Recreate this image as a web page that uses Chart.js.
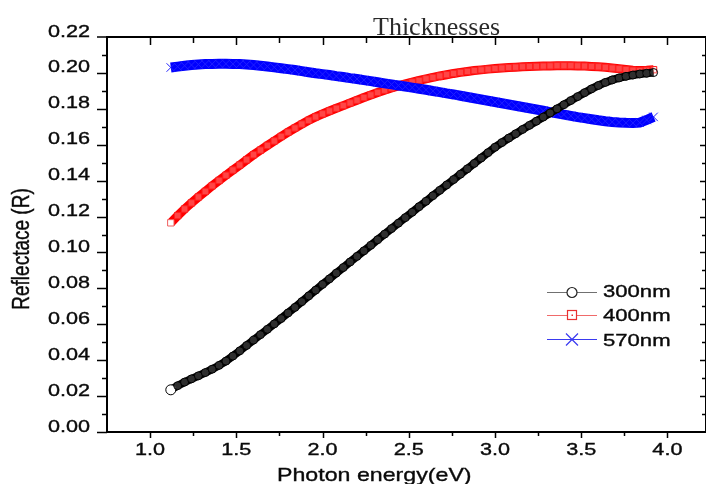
<!DOCTYPE html>
<html>
<head>
<meta charset="utf-8">
<script src="https://cdn.jsdelivr.net/npm/chart.js@4"></script>
<style>
  html, body { margin: 0; padding: 0; background: #fff; overflow: hidden; }
  canvas { display: block; }
</style>
</head>
<body>
<canvas id="reflChart" width="706" height="484"></canvas>
<script>
// photon energy (eV)
const energy = [
  1.12, 1.16, 1.20, 1.24, 1.28, 1.32, 1.36, 1.40, 1.44, 1.48,
  1.52, 1.56, 1.60, 1.64, 1.68, 1.72, 1.76, 1.80, 1.84, 1.88,
  1.92, 1.96, 2.00, 2.04, 2.08, 2.12, 2.16, 2.20, 2.24, 2.28,
  2.32, 2.36, 2.40, 2.44, 2.48, 2.52, 2.56, 2.60, 2.64, 2.68,
  2.72, 2.76, 2.80, 2.84, 2.88, 2.92, 2.96, 3.00, 3.04, 3.08,
  3.12, 3.16, 3.20, 3.24, 3.28, 3.32, 3.36, 3.40, 3.44, 3.48,
  3.52, 3.56, 3.60, 3.64, 3.68, 3.72, 3.76, 3.80, 3.84, 3.88,
  3.92
];

const r300 = [
  0.0235, 0.0258, 0.0278, 0.0296, 0.0313, 0.0331, 0.0350, 0.0371, 0.0395, 0.0423,
  0.0452, 0.0482, 0.0512, 0.0542, 0.0572, 0.0602, 0.0632, 0.0663, 0.0694, 0.0726,
  0.0758, 0.0790, 0.0822, 0.0853, 0.0885, 0.0916, 0.0947, 0.0978, 0.1009, 0.1040,
  0.1071, 0.1102, 0.1133, 0.1163, 0.1194, 0.1224, 0.1255, 0.1285, 0.1316, 0.1346,
  0.1376, 0.1406, 0.1436, 0.1466, 0.1496, 0.1526, 0.1556, 0.1586, 0.1612, 0.1637,
  0.1661, 0.1685, 0.1708, 0.1731, 0.1754, 0.1777, 0.1800, 0.1823, 0.1846, 0.1868,
  0.1890, 0.1911, 0.1930, 0.1947, 0.1961, 0.1972, 0.1981, 0.1988, 0.1994, 0.1998,
  0.2002
];

const r400 = [
  0.1165, 0.1205, 0.1242, 0.1276, 0.1309, 0.1340, 0.1371, 0.1401, 0.1430, 0.1459,
  0.1487, 0.1516, 0.1544, 0.1570, 0.1596, 0.1621, 0.1646, 0.1670, 0.1693, 0.1715,
  0.1736, 0.1755, 0.1772, 0.1788, 0.1803, 0.1818, 0.1833, 0.1848, 0.1863, 0.1877,
  0.1891, 0.1904, 0.1916, 0.1928, 0.1939, 0.1949, 0.1958, 0.1967, 0.1975, 0.1983,
  0.1990, 0.1997, 0.2003, 0.2008, 0.2013, 0.2017, 0.2021, 0.2024, 0.2027, 0.2030,
  0.2032, 0.2034, 0.2036, 0.2037, 0.2038, 0.2039, 0.2040, 0.2040, 0.2040, 0.2039,
  0.2038, 0.2036, 0.2034, 0.2031, 0.2027, 0.2023, 0.2019, 0.2015, 0.2013, 0.2015,
  0.2018
];

const r570 = [
  0.2030, 0.2035, 0.2040, 0.2044, 0.2047, 0.2049, 0.2050, 0.2051, 0.2051, 0.2050,
  0.2049, 0.2047, 0.2044, 0.2040, 0.2036, 0.2031, 0.2026, 0.2021, 0.2016, 0.2010,
  0.2004, 0.1998, 0.1993, 0.1988, 0.1982, 0.1977, 0.1971, 0.1966, 0.1960, 0.1954,
  0.1948, 0.1942, 0.1936, 0.1930, 0.1924, 0.1918, 0.1912, 0.1906, 0.1899, 0.1893,
  0.1886, 0.1880, 0.1873, 0.1866, 0.1859, 0.1852, 0.1845, 0.1838, 0.1831, 0.1824,
  0.1817, 0.1810, 0.1803, 0.1796, 0.1789, 0.1782, 0.1775, 0.1768, 0.1761, 0.1754,
  0.1748, 0.1742, 0.1736, 0.1731, 0.1727, 0.1724, 0.1722, 0.1721, 0.1723, 0.1738,
  0.1755
];

const seriesNames = ['300nm', '400nm', '570nm'];
const xTicks = [1.0, 1.5, 2.0, 2.5, 3.0, 3.5, 4.0];
const yTicks = [0.00, 0.02, 0.04, 0.06, 0.08, 0.10, 0.12, 0.14, 0.16, 0.18, 0.20, 0.22];

function pts(ys) {
  return energy.map((e, i) => ({ x: e, y: ys[i] }));
}

// stretched text, the original figure is squashed wider than tall
function stretchText(ctx, str, x, y, font, align, sx, rot) {
  ctx.save();
  ctx.translate(x, y);
  ctx.scale(sx, 1);
  if (rot) ctx.rotate(rot);
  ctx.font = font;
  ctx.textAlign = align;
  ctx.textBaseline = 'alphabetic';
  ctx.fillStyle = '#0a0a0a';
  ctx.strokeStyle = '#0a0a0a';
  ctx.lineWidth = 0.35;
  ctx.fillText(str, 0, 0);
  ctx.strokeText(str, 0, 0);
  ctx.restore();
}

const frame = {
  id: 'frame',
  afterDatasetsDraw(chart) {
    const ctx = chart.ctx;
    const a = chart.chartArea;
    const xs = chart.scales.x, ys = chart.scales.y;
    ctx.save();
    ctx.strokeStyle = '#000';
    ctx.lineWidth = 2;
    ctx.strokeRect(a.left, a.top, a.right - a.left, a.bottom - a.top);
    ctx.lineWidth = 1.5;
    ctx.beginPath();
    // x ticks every 0.25, labels every 0.5
    for (let i = 0; i <= 14; i++) {
      const v = 0.75 + i * 0.25;
      const px = Math.round(xs.getPixelForValue(v)) + 0.5;
      if (px < a.left + 2 || px > a.right - 1) continue;
      const major = i % 2 === 1;
      ctx.moveTo(px, a.bottom);
      ctx.lineTo(px, a.bottom + (major ? 6 : 4));
      ctx.moveTo(px, a.top);
      ctx.lineTo(px, a.top + (major ? 8 : 6));
    }
    // y ticks every 0.01
    for (let i = 1; i <= 21; i++) {
      const v = i * 0.01;
      const py = Math.round(ys.getPixelForValue(v)) + 0.5;
      const major = i % 2 === 0;
      ctx.moveTo(a.left, py);
      ctx.lineTo(a.left - (major ? 10 : 5), py);
      ctx.moveTo(a.right, py);
      ctx.lineTo(a.right - (major ? 6 : 4), py);
    }
    ctx.moveTo(a.left, a.bottom + 0.5);
    ctx.lineTo(a.left - 10, a.bottom + 0.5);
    ctx.moveTo(a.left, a.top);
    ctx.lineTo(a.left - 10, a.top);
    ctx.stroke();

    const tickFont = '16px "Liberation Sans", Arial, sans-serif';
    yTicks.forEach(v => {
      stretchText(ctx, v.toFixed(2), 90, ys.getPixelForValue(v) - 0.5, tickFont, 'right', 1.35);
    });
    xTicks.forEach(v => {
      stretchText(ctx, v.toFixed(1), xs.getPixelForValue(v), 455, tickFont, 'center', 1.35);
    });

    stretchText(ctx, 'Photon energy(eV)', 277, 481, '19px "Liberation Sans", Arial, sans-serif', 'left', 1.22);
    stretchText(ctx, 'Reflectace (R)', 29, 249, '19px "Liberation Sans", Arial, sans-serif', 'center', 1.3, -Math.PI / 2);

    ctx.font = '26px "Liberation Serif", "Times New Roman", serif';
    ctx.fillStyle = '#2a2a2a';
    ctx.textAlign = 'left';
    ctx.textBaseline = 'alphabetic';
    ctx.fillText('Thicknesses', 373, 35);

    // legend
    const rows = [
      { y: 292, base: 297, line: '#707070', mark: '#222' },
      { y: 315, base: 320.5, line: '#f06a6a', mark: '#e83030' },
      { y: 339, base: 346, line: '#3a3af0', mark: '#3a3af0' }
    ];
    rows.forEach((r, i) => {
      ctx.strokeStyle = r.line;
      ctx.lineWidth = 1.2;
      ctx.beginPath();
      ctx.moveTo(547, r.y + 0.5);
      ctx.lineTo(597, r.y + 0.5);
      ctx.stroke();
      ctx.strokeStyle = r.mark;
      ctx.fillStyle = '#fff';
      ctx.lineWidth = 1.2;
      ctx.beginPath();
      if (i === 0) {
        ctx.arc(572, r.y + 0.5, 5, 0, Math.PI * 2);
        ctx.fill();
        ctx.stroke();
      } else if (i === 1) {
        ctx.fillRect(567.5, r.y - 4.5, 9, 9);
        ctx.strokeRect(567.5, r.y - 4.5, 9, 9);
        ctx.fillStyle = r.mark;
        ctx.fillRect(571.5, r.y - 0.5, 1.5, 1.5);
      } else {
        ctx.moveTo(566, r.y - 5.5);
        ctx.lineTo(578, r.y + 6.5);
        ctx.moveTo(578, r.y - 5.5);
        ctx.lineTo(566, r.y + 6.5);
        ctx.stroke();
      }
      stretchText(ctx, seriesNames[i], 603, r.base, '17px "Liberation Sans", Arial, sans-serif', 'left', 1.3);
    });
    ctx.restore();
  }
};

const ctx = document.getElementById('reflChart').getContext('2d');

const chart = new Chart(ctx, {
  type: 'line',
  data: {
    datasets: [
      {
        label: seriesNames[0],
        data: pts(r300),
        borderColor: '#000',
        borderWidth: 8,
        pointStyle: 'circle',
        pointRadius: c => c.dataIndex === 0 ? 5 : 4,
        pointBorderColor: '#000',
        pointBorderWidth: 1,
        pointBackgroundColor: c => c.dataIndex === 0 ? '#fff' : 'rgba(255,255,255,0.18)',
        order: 0
      },
      {
        label: seriesNames[1],
        data: pts(r400),
        borderColor: '#ff0000',
        borderWidth: 9,
        pointStyle: 'rect',
        pointRadius: 4.5,
        pointBorderColor: c => c.dataIndex === 0 ? '#f06060' : '#ff2020',
        pointBorderWidth: 1,
        pointBackgroundColor: c => c.dataIndex === 0 ? '#fff' : 'rgba(255,200,200,0.35)',
        order: 2
      },
      {
        label: seriesNames[2],
        data: pts(r570),
        borderColor: '#0000ff',
        borderWidth: 10,
        pointStyle: 'crossRot',
        pointRadius: 6,
        pointBorderColor: '#2020ff',
        pointBorderWidth: 1,
        order: 1
      }
    ]
  },
  options: {
    animation: false,
    responsive: false,
    devicePixelRatio: 1,
    layout: { autoPadding: false, padding: { left: 107, top: 37, right: -2, bottom: 52 } },
    plugins: {
      legend: { display: false },
      tooltip: { enabled: false },
      title: { display: false }
    },
    elements: { line: { tension: 0 } },
    scales: {
      x: { type: 'linear', min: 0.75, max: 4.224, display: false },
      y: { type: 'linear', min: 0, max: 0.22, display: false }
    }
  },
  plugins: [frame]
});
</script>
</body>
</html>
